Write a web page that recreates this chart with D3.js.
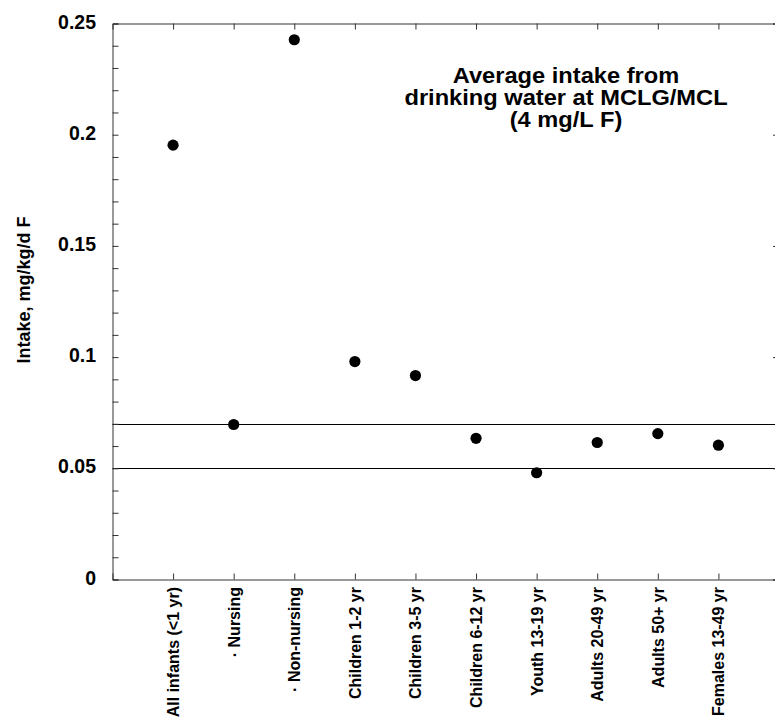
<!DOCTYPE html>
<html><head><meta charset="utf-8">
<script src="https://cdn.jsdelivr.net/npm/d3@7"></script>
<style>
html,body{margin:0;padding:0;background:#fff;}
svg{display:block;font-family:"Liberation Sans",Arial,Helvetica,sans-serif;font-weight:bold;}
</style></head>
<body>
<script>
const categories = ["All infants (<1 yr)", "· Nursing", "· Non-nursing", "Children 1-2 yr", "Children 3-5 yr",
  "Children 6-12 yr", "Youth 13-19 yr", "Adults 20-49 yr", "Adults 50+ yr", "Females 13-49 yr"];
const intake = [0.1953, 0.0697, 0.2427, 0.0980, 0.0917, 0.0635, 0.0480, 0.0616, 0.0656, 0.0604];
const yTicks = [0, 0.05, 0.1, 0.15, 0.2, 0.25];
const yTickLabels = ["0", "0.05", "0.1", "0.15", "0.2", "0.25"];
const yMinorTicks = d3.range(0, 26).map(i => i / 100);
const refLines = [0.05, 0.07];
const titleLines = ["Average intake from", "drinking water at MCLG/MCL", "(4 mg/L F)"];
const yLabel = "Intake, mg/kg/d F";

const W = 775, H = 717;
const svg = d3.select("body").append("svg").attr("width", W).attr("height", H);
svg.append("rect").attr("width", W).attr("height", H).attr("fill", "#fff");

const x = d3.scaleLinear().domain([0, categories.length + 1]).range([112.5, 779]);
const y = d3.scaleLinear().domain([0, 0.25]).range([579.5, 23.5]);
const L = x.range()[0], R = x.range()[1], B = y.range()[0], T = y.range()[1];
const pos = (d, i) => x(i + 1);

// reference lines
svg.selectAll("line.ref").data(refLines).join("line")
  .attr("x1", L).attr("x2", R).attr("y1", d => Math.round(y(d)) + 0.5).attr("y2", d => Math.round(y(d)) + 0.5)
  .attr("stroke", "#000").attr("stroke-width", 1);

// left axis with minor ticks
const g = svg.append("g");
g.append("g").attr("transform", `translate(${L},0)`)
  .call(d3.axisRight(y).tickValues(yMinorTicks).tickSize(6).tickFormat(""))
  .call(a => a.selectAll("line,path").attr("stroke", "#333"));
// left tick labels
svg.selectAll("text.yt").data(yTicks).join("text")
  .attr("x", 96).attr("y", d => y(d) - 2).attr("dy", "0.36em")
  .attr("text-anchor", "end").attr("font-size", 19.5).attr("fill", "#000")
  .text((d, i) => yTickLabels[i]);
// right axis major ticks
g.append("g").attr("transform", `translate(${R},0)`)
  .call(d3.axisLeft(y).tickValues(yTicks).tickSize(6).tickFormat(""))
  .call(a => a.selectAll("line,path").attr("stroke", "#333"));
// bottom axis
g.append("g").attr("transform", `translate(0,${B})`)
  .call(d3.axisTop(x).tickValues(d3.range(1, categories.length + 1)).tickSize(6).tickFormat(""))
  .call(a => a.selectAll("line,path").attr("stroke", "#333"));
// top axis
g.append("g").attr("transform", `translate(0,${T})`)
  .call(d3.axisBottom(x).tickValues(d3.range(1, categories.length + 1)).tickSize(6).tickFormat(""))
  .call(a => a.selectAll("line,path").attr("stroke", "#333"));

// category labels
svg.selectAll("text.cat").data(categories).join("text")
  .attr("transform", (d, i) => `translate(${pos(d, i) + 6},587) rotate(-90)`)
  .attr("text-anchor", "end").attr("font-size", 16).attr("fill", "#000")
  .text(d => d);

// points
svg.selectAll("circle.pt").data(intake).join("circle")
  .attr("cx", (d, i) => pos(d, i)).attr("cy", d => y(d)).attr("r", 5.6).attr("fill", "#000");

// title
svg.append("text").attr("transform", "translate(566,0) scale(1.1,1)")
  .attr("text-anchor", "middle").attr("font-size", 21.5).attr("fill", "#000")
  .selectAll("tspan").data(titleLines).join("tspan")
  .attr("x", 0).attr("y", (d, i) => 83 + i * 22).text(d => d);

// y label
svg.append("text").attr("transform", "translate(30,290) rotate(-90)")
  .attr("text-anchor", "middle").attr("font-size", 18).attr("fill", "#000").text(yLabel);
</script>
</body></html>
